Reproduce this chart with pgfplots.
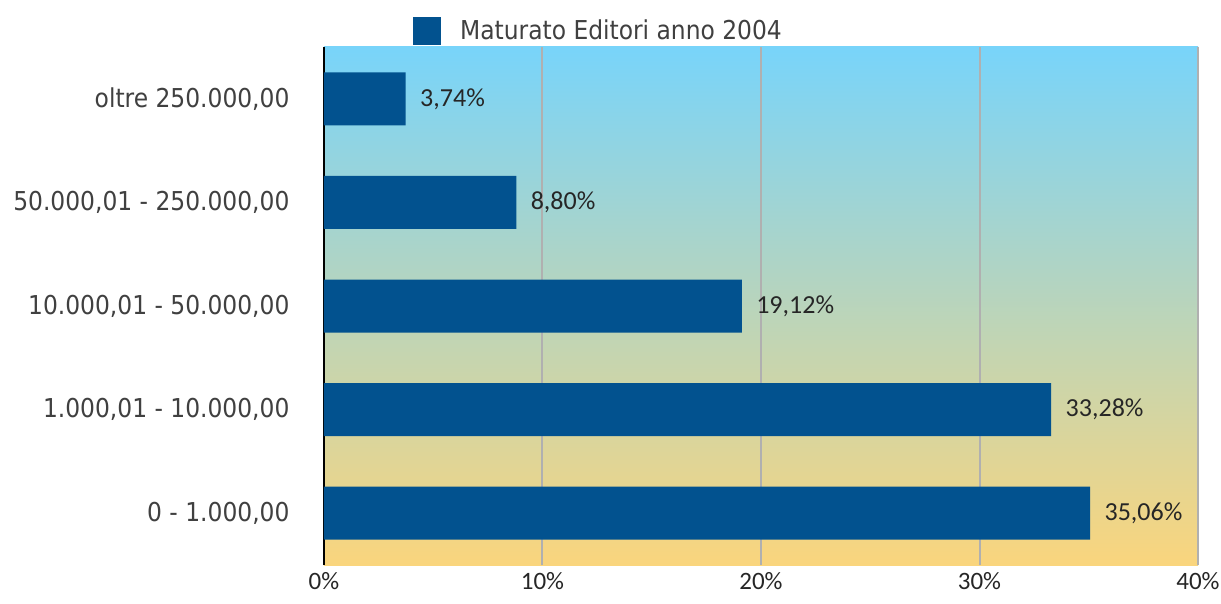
\documentclass[border=0pt]{standalone}
\usepackage{fontspec}
\setmainfont{DejaVu Sans Condensed}
\newfontfamily\numfont{Carlito}
\usepackage{pgfplots}
\pgfplotsset{compat=1.18}
\definecolor{barblue}{HTML}{02528F}
\definecolor{topc}{HTML}{78D4FA}
\definecolor{botc}{HTML}{FAD57D}
\definecolor{txt}{HTML}{404040}
\definecolor{numc}{HTML}{262626}
\definecolor{gridc}{HTML}{B0B0B0}
\begin{document}
\begin{tikzpicture}
\useasboundingbox (-324pt,-38pt) rectangle (897pt,565pt);
\begin{axis}[
  at={(0pt,0pt)}, anchor=south west,
  scale only axis, width=874pt, height=518pt,
  /pgf/number format/assume math mode=true,
  xbar, bar width=53pt,
  xmin=0, xmax=40, ymin=-0.5, ymax=4.5,
  ytick={0,1,2,3,4},
  yticklabels={{0 - 1.000,00}, {1.000,01 - 10.000,00}, {10.000,01 - 50.000,00}, {50.000,01 - 250.000,00}, {oltre 250.000,00}},
  xtick={0,10,20,30,40},
  xticklabel={\pgfmathprintnumber{\tick}\%},
  xticklabel style={font=\numfont\fontsize{25}{30}\selectfont, text=numc, yshift=-4pt},
  yticklabel style={font=\fontsize{26}{30}\selectfont, text=txt, xshift=-31pt},
  major tick length=0pt,
  xmajorgrids, major grid style={gridc, line width=2pt},
  axis x line*=bottom, axis y line*=left,
  x axis line style={draw=none},
  y axis line style={black, line width=1.6pt},
  axis background/.style={top color=topc, bottom color=botc},
  nodes near coords={\pgfmathprintnumber[fixed, fixed zerofill, precision=2, use comma]{\pgfplotspointmeta}\%},
  nodes near coords style={font=\numfont\fontsize{26}{30}\selectfont, text=numc, anchor=west, xshift=11pt},
  point meta=explicit,
  legend style={at={(0.1018,1)}, anchor=south west, draw=none, fill=none, inner sep=0pt,
    font=\fontsize{26}{30}\selectfont, text=txt, yshift=2pt},
  legend image code/.code={\fill[barblue, draw=none] (0pt,-14pt) rectangle (28pt,14pt); \path[draw=none, fill=none] (28pt,0pt) -- (45pt,0pt);},
  legend cell align=left,
]
\addplot[fill=barblue, draw=none] coordinates {
  (35.06,0) [35.06]
  (33.28,1) [33.28]
  (19.12,2) [19.12]
  (8.80,3) [8.80]
  (3.74,4) [3.74]
};
\legend{Maturato Editori anno 2004}
\end{axis}
\end{tikzpicture}
\end{document}
